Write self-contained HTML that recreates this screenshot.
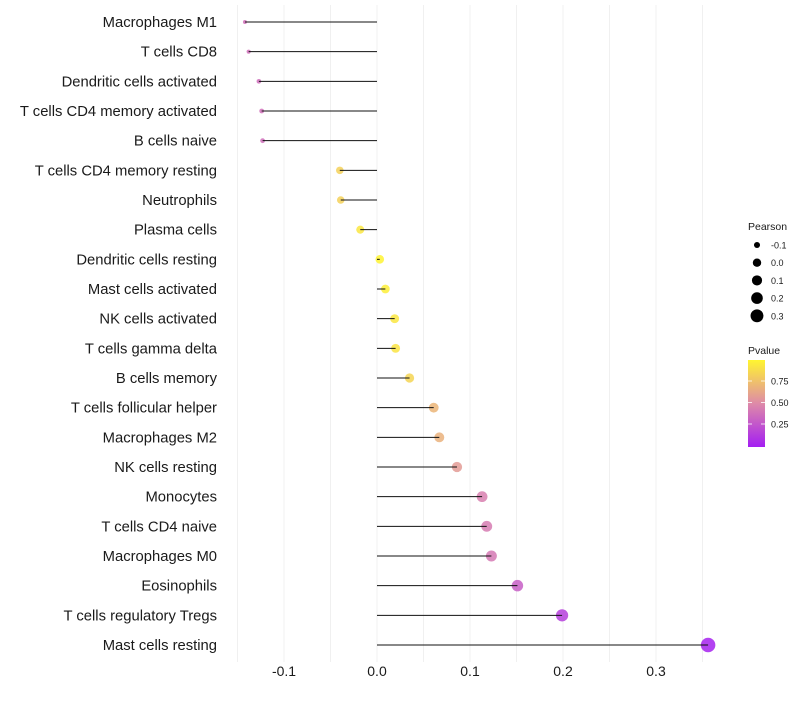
<!DOCTYPE html>
<html><head><meta charset="utf-8"><style>
body{margin:0;background:#fff;font-family:"Liberation Sans",sans-serif}
svg text{font-family:"Liberation Sans",sans-serif}
</style></head><body>
<svg id="chart" width="800" height="700"></svg>
<script>
const categories=["Macrophages M1","T cells CD8","Dendritic cells activated","T cells CD4 memory activated","B cells naive","T cells CD4 memory resting","Neutrophils","Plasma cells","Dendritic cells resting","Mast cells activated","NK cells activated","T cells gamma delta","B cells memory","T cells follicular helper","Macrophages M2","NK cells resting","Monocytes","T cells CD4 naive","Macrophages M0","Eosinophils","T cells regulatory  Tregs","Mast cells resting"];
const pearson=[-0.142,-0.138,-0.127,-0.124,-0.123,-0.040,-0.039,-0.018,0.003,0.009,0.019,0.020,0.035,0.061,0.067,0.086,0.113,0.118,0.123,0.151,0.199,0.356];
const pvalue=[0.38,0.38,0.37,0.38,0.37,0.83,0.83,0.93,0.99,0.97,0.93,0.92,0.85,0.70,0.68,0.58,0.45,0.43,0.42,0.30,0.15,0.02];
const xTicks=[-0.1,0.0,0.1,0.2,0.3];
const xGrid=[-0.15,-0.1,-0.05,0,0.05,0.1,0.15,0.2,0.25,0.3,0.35];
const sizeLegend=[-0.1,0.0,0.1,0.2,0.3];
const colorTicks=[0.25,0.5,0.75];

const NS="http://www.w3.org/2000/svg";
const svg=document.getElementById('chart');
const pMin=Math.min(...pearson),pMax=Math.max(...pearson);
function x(v){return 377+v*930;}
function y(i){return 22+i*(623/21);}
function r(v){return Math.sqrt(4+49*(v-pMin)/(pMax-pMin));}
function lerp(a,b,t){return Math.round(a+(b-a)*t);}
function col(p){const s=[[0,[164,30,242]],[0.5,[222,138,168]],[1,[255,245,48]]];
 let k=p<0.5?0:1;const t=(p-s[k][0])/0.5;const a=s[k][1],b=s[k+1][1];
 return `rgb(${lerp(a[0],b[0],t)},${lerp(a[1],b[1],t)},${lerp(a[2],b[2],t)})`;}
function el(tag,attrs,parent){const e=document.createElementNS(NS,tag);for(const k in attrs)e.setAttribute(k,attrs[k]);(parent||svg).appendChild(e);return e;}

xGrid.forEach(v=>{const g=el('line',{x1:x(v),x2:x(v),y1:5,y2:662,stroke:'#f0f0f0','stroke-width':1});

});

categories.forEach((c,i)=>{
 const t=el('text',{x:217,y:y(i)+5,'text-anchor':'end','font-size':14.8,fill:'#1a1a1a'});t.textContent=c;
 
 
 const p=el('circle',{cx:x(pearson[i]),cy:y(i),r:r(pearson[i]),fill:col(pvalue[i]),'fill-opacity':0.85});
 
 
 const l=el('line',{x1:x(0),x2:x(pearson[i]),y1:y(i),y2:y(i),stroke:'#111','stroke-width':1});
 
 
});

xTicks.forEach(v=>{const t=el('text',{x:x(v),y:676,'text-anchor':'middle','font-size':14,fill:'#1a1a1a'});t.textContent=v.toFixed(1);

});

const lt=el('text',{x:748,y:230,'font-size':10.5,fill:'#1a1a1a'});lt.textContent='Pearson';


sizeLegend.forEach((v,i)=>{const cy=245+i*17.7;
 const c=el('circle',{cx:757,cy:cy,r:r(v)*0.85+0.6,fill:'#000'});
 
 
 const t=el('text',{x:771,y:cy+3.5,'font-size':9,fill:'#1a1a1a'});t.textContent=v.toFixed(1);
 
 });

const pt=el('text',{x:748,y:354,'font-size':10.5,fill:'#1a1a1a'});pt.textContent='Pvalue';


const defs=el('defs',{});const gr=el('linearGradient',{id:'pg',x1:0,y1:1,x2:0,y2:0},defs);
[0,0.25,0.5,0.75,1].forEach(o=>el('stop',{offset:o,'stop-color':col(o)},gr));
const bar=el('rect',{x:748,y:360,width:17,height:87,fill:'url(#pg)'});


colorTicks.forEach(v=>{const yy=445.5-v*86;
 el('line',{x1:748,x2:752,y1:yy,y2:yy,stroke:'#fff','stroke-width':0.8});
 el('line',{x1:761,x2:765,y1:yy,y2:yy,stroke:'#fff','stroke-width':0.8});
 const t=el('text',{x:771,y:yy+3.5,'font-size':9,fill:'#1a1a1a'});t.textContent=v.toFixed(2);
 
 });
</script>
</body></html>
